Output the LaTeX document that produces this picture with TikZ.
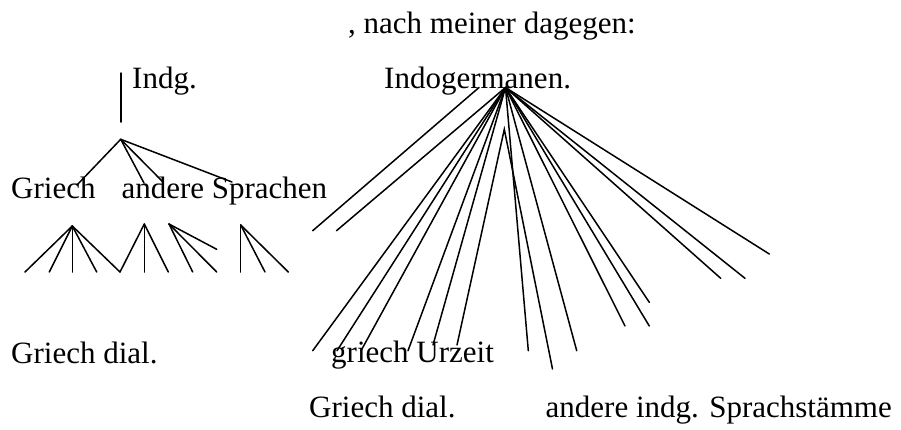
\documentclass[tikz,border=0pt]{standalone}
\usepackage{fontspec}
\setmainfont{Liberation Serif}
\begin{document}
\begin{tikzpicture}[x=1pt,y=-1pt,
  lbl/.style={inner sep=0pt, anchor=base west, font=\fontsize{31}{36}\selectfont},
  ln/.style={line width=1.5pt, line cap=round}]
\useasboundingbox (0,0) rectangle (901,429);
% texts
\node[lbl] (head) at (348,33) {, nach meiner dagegen:};
\node[lbl] (indg) at (132,88) {Indg.};
\node[lbl] (idg) at (384,88) {Indogermanen.};
\node[lbl] (gas) at (11,198) {Griech\hspace*{26pt}andere Sprachen};
\node[lbl] (gdl) at (11,363) {Griech dial.};
\node[lbl] (gu) at (331,362) {griech Urzeit};
\node[lbl] (gd2) at (309,417) {Griech dial.};
\node[lbl] (ais) at (545.5,417) {andere indg. Sprachstämme};
% left tree
\coordinate (v1) at (121,73);
\coordinate (v2) at (121,122);
\draw[ln] (v1) -- (v2);
\coordinate (L) at (120.7,139.3);
\coordinate (l1) at (77,185);
\coordinate (l2) at (144,183);
\coordinate (l3) at (163,182);
\coordinate (l4) at (232,182);
\foreach \e in {l1,l2,l3,l4} \draw[ln] (L) -- (\e);
% lower fans
\coordinate (A) at (72.3,226);
\coordinate (B) at (144.3,224);
\coordinate (C) at (169,224);
\coordinate (D) at (240.7,225);
\coordinate (a1) at (25,272);
\coordinate (a2) at (49.3,272);
\coordinate (a3) at (72.3,272);
\coordinate (a4) at (96.7,272);
\coordinate (a5) at (120,272);
\coordinate (b2) at (144.3,272);
\coordinate (b3) at (168.3,272);
\coordinate (c1) at (192.7,272);
\coordinate (c2) at (216.7,272);
\coordinate (c3) at (216.7,249.3);
\coordinate (d1) at (240.7,272);
\coordinate (d2) at (265,272);
\coordinate (d3) at (288.3,272);
\foreach \e in {a1,a2,a3,a4,a5} \draw[ln] (A) -- (\e);
\foreach \e in {a5,b2,b3} \draw[ln] (B) -- (\e);
\foreach \e in {c1,c2,c3} \draw[ln] (C) -- (\e);
\foreach \e in {d1,d2,d3} \draw[ln] (D) -- (\e);
% right fan
\coordinate (R) at (505.5,87.5);
\coordinate (P) at (504.3,129.3);
\coordinate (s0) at (479,87.5);
\coordinate (r0) at (312.7,230.7);
\draw[ln] (s0) -- (r0);
\coordinate (r1) at (336.5,230.7);
\coordinate (r2) at (312.7,350.7);
\coordinate (r3) at (337,350.7);
\coordinate (r4) at (361,350.7);
\coordinate (r5) at (408,350.7);
\coordinate (r6) at (433,345);
\coordinate (p1) at (457,345);
\coordinate (r7) at (528.3,350.7);
\coordinate (p2) at (552.5,369);
\coordinate (r8) at (576.7,350.7);
\coordinate (r9) at (625,326);
\coordinate (r10) at (649.3,326);
\coordinate (r11) at (649.3,302.3);
\coordinate (r12) at (720.7,278.3);
\coordinate (r13) at (745,278.3);
\coordinate (r14) at (769.3,254);
\foreach \e in {r1,r2,r3,r4,r5,r6,r7,r8,r9,r10,r11,r12,r13,r14} \draw[ln] (R) -- (\e);
\draw[ln] (p1) -- (P) -- (p2);
\end{tikzpicture}
\end{document}
